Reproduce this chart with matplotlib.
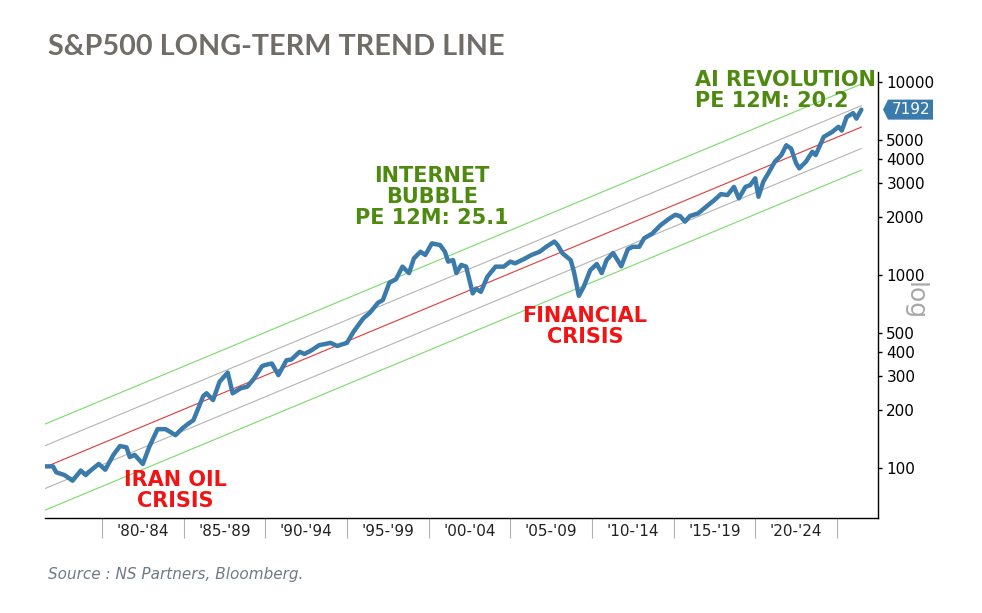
import matplotlib
matplotlib.use("Agg")
import matplotlib.pyplot as plt
import numpy as np
from matplotlib.patches import Polygon
from matplotlib.transforms import IdentityTransform

# ---------------- data ----------------
years = [1976.5, 1977.0, 1977.2, 1977.7, 1978.2, 1978.7, 1979.0, 1979.3, 1979.8, 1980.2,
         1980.7, 1981.1, 1981.5, 1981.7, 1982.0, 1982.5, 1982.9, 1983.4, 1983.9, 1984.5,
         1984.9, 1985.3, 1985.6, 1986.2, 1986.4, 1986.8, 1987.2, 1987.7, 1988.0, 1988.5,
         1988.9, 1989.3, 1989.8, 1990.0, 1990.4, 1990.8, 1991.3, 1991.6, 1992.1, 1992.4,
         1992.8, 1993.3, 1994.0, 1994.4, 1995.0, 1995.4, 1996.0, 1996.4, 1996.9, 1997.2,
         1997.6, 1998.0, 1998.4, 1998.8, 1999.1, 1999.5, 1999.8, 2000.2, 2000.7, 2001.0,
         2001.2, 2001.5, 2001.7, 2002.0, 2002.3, 2002.7, 2002.9, 2003.2, 2003.6, 2004.1,
         2004.6, 2005.0, 2005.3, 2005.8, 2006.3, 2006.8, 2007.2, 2007.7, 2007.9, 2008.2,
         2008.7, 2008.9, 2009.2, 2009.5, 2009.9, 2010.3, 2010.6, 2010.9, 2011.3, 2011.8,
         2012.2, 2012.5, 2012.9, 2013.2, 2013.7, 2014.2, 2014.7, 2015.1, 2015.4, 2015.7,
         2016.0, 2016.5, 2017.0, 2017.5, 2017.9, 2018.3, 2018.7, 2019.0, 2019.4, 2019.7,
         2020.0, 2020.2, 2020.5, 2020.8, 2021.2, 2021.6, 2021.9, 2022.2, 2022.5, 2022.7,
         2023.1, 2023.5, 2023.7, 2024.2, 2024.7, 2025.1, 2025.3, 2025.6, 2026.0, 2026.2,
         2026.5]
values = [102, 102, 95, 92, 86, 97, 92, 97, 105, 98,
          117, 130, 128, 114, 117, 105, 129, 159, 159, 148,
          160, 170, 177, 236, 244, 225, 280, 312, 244, 259,
          264, 290, 337, 342, 348, 303, 362, 365, 400, 390,
          406, 433, 445, 429, 445, 508, 596, 637, 718, 742,
          912, 950, 1105, 1023, 1219, 1320, 1270, 1458, 1430, 1320,
          1173, 1195, 1023, 1128, 1105, 803, 850, 818, 980, 1105,
          1105, 1173, 1150, 1205, 1270, 1320, 1400, 1490, 1430, 1295,
          1195, 1040, 780, 870, 1060, 1140, 1023, 1195, 1300, 1110,
          1360, 1400, 1400, 1550, 1640, 1810, 1950, 2050, 2020, 1890,
          2020, 2085, 2260, 2445, 2625, 2595, 2860, 2495, 2860, 2925,
          3170, 2545, 3050, 3360, 3860, 4180, 4700, 4520, 3800, 3570,
          3860, 4350, 4180, 5200, 5500, 5860, 5600, 6580, 6900, 6460,
          7192]

trend_start_value = 101.0        # trend level at first date
trend_log_slope = 0.03524        # log10 growth per year
band_inner = 0.111               # log10 offset of grey bands
band_outer = 0.223               # log10 offset of green bands

ytick_values = [100, 200, 300, 400, 500, 1000, 2000, 3000, 4000, 5000, 10000]
period_starts = [1980, 1985, 1990, 1995, 2000, 2005, 2010, 2015, 2020, 2025]
period_labels = ["'80-'84", "'85-'89", "'90-'94", "'95-'99", "'00-'04",
                 "'05-'09", "'10-'14", "'15-'19", "'20-'24"]
last_label = "7192"

# ---------------- figure ----------------
W, H = 982, 613
fig = plt.figure(figsize=(W / 100, H / 100), dpi=100)
ax = fig.add_axes([45 / W, 1 - 518 / H, (878 - 45) / W, (518 - 72) / H])

ax.set_yscale('log')
ax.set_xlim(1976.51, 2027.52)
ax.set_ylim(55.1, 11265)

yrs = np.array(years)
t = np.array([yrs[0], yrs[-1]])
base = np.log10(trend_start_value) + trend_log_slope * (t - yrs[0])
for off, col in [(band_outer, '#77dd66'), (band_inner, '#b4b4b4'), (0.0, '#e03a3a'),
                 (-band_inner, '#b4b4b4'), (-band_outer, '#77dd66')]:
    ax.plot(t, 10 ** (base + off), color=col, lw=0.8, zorder=2)

ax.plot(years, values, color='#3a7bab', lw=3.2, solid_joinstyle='round',
        solid_capstyle='round', zorder=3)

# spines
for s in ['left', 'top']:
    ax.spines[s].set_visible(False)
ax.spines['right'].set_linewidth(1.0)
ax.spines['bottom'].set_linewidth(1.0)

# y axis on right
ax.yaxis.tick_right()
ax.set_yticks(ytick_values)
ax.set_yticklabels([str(v) for v in ytick_values])
ax.yaxis.set_minor_locator(matplotlib.ticker.NullLocator())
ax.tick_params(axis='y', which='major', direction='out', length=3, width=1,
               pad=3, labelsize=11, colors='black')

# x axis separators + centred labels
ax.set_xticks(period_starts)
ax.set_xticklabels([''] * len(period_starts))
ax.set_xticks([s + 2.5 for s in period_starts[:-1]], minor=True)
ax.set_xticklabels(period_labels, minor=True)
ax.tick_params(axis='x', which='major', direction='out', length=14.5, width=0.8,
               color='#b0b0b0')
ax.tick_params(axis='x', which='minor', length=0, pad=4, labelsize=11,
               labelcolor='#222222')

# last value marker box
fig.canvas.draw()
ax_x, ax_y = ax.transData.transform((2027.52, values[-1]))
tip = ax_x + 5
h2 = 10
poly = Polygon([[tip, ax_y], [tip + 5, ax_y + h2], [tip + 50, ax_y + h2],
                [tip + 50, ax_y - h2], [tip + 5, ax_y - h2]],
               closed=True, transform=IdentityTransform(), facecolor='#3a7bab',
               edgecolor='none', zorder=5)
fig.patches.append(poly)
fig.text((tip + 28) / W, ax_y / H, last_label, color='white', fontsize=11,
         ha='center', va='center', zorder=6)

# "log" label
fig.text(915 / W, 1 - 301 / H, 'log', rotation=-90, color='#a8a8a8', fontsize=18,
         ha='center', va='center')

# title & source
fig.text(48 / W, 1 - 47 / H, 'S&P500 LONG-TERM TREND LINE', color='#706c68',
         fontsize=20.7, fontweight='bold', family='Lato', ha='left', va='center')
fig.text(48 / W, 1 - 575 / H, 'Source : NS Partners, Bloomberg.', color='#6e7a86',
         fontsize=11, style='italic', ha='left', va='center')

green = '#4f8a10'
red = '#f01414'
fig.text(432 / W, 1 - 197 / H, 'INTERNET\nBUBBLE\nPE 12M: 25.1', color=green,
         fontsize=15, fontweight='bold', ha='center', va='center',
         multialignment='center', linespacing=1.05)
fig.text(695 / W, 1 - 90.5 / H, 'AI REVOLUTION\nPE 12M: 20.2', color=green,
         fontsize=15, fontweight='bold', ha='left', va='center',
         multialignment='left', linespacing=1.05)
fig.text(585 / W, 1 - 326.5 / H, 'FINANCIAL\nCRISIS', color=red,
         fontsize=15, fontweight='bold', ha='center', va='center',
         multialignment='center', linespacing=1.05)
fig.text(175 / W, 1 - 490.5 / H, 'IRAN OIL\nCRISIS', color=red,
         fontsize=15, fontweight='bold', ha='center', va='center',
         multialignment='center', linespacing=1.05)

fig.savefig('out.png', dpi=100)
